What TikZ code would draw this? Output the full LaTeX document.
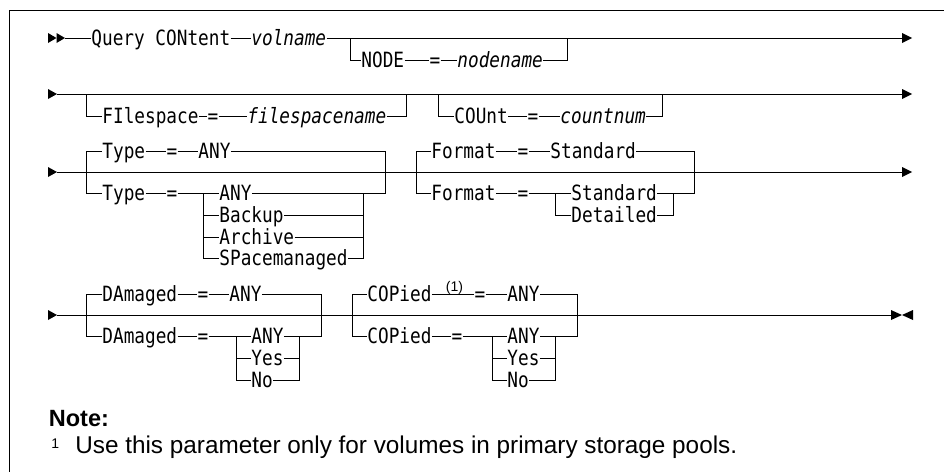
\documentclass[tikz,border=0pt]{standalone}
\usepackage{fontspec}
\newfontfamily\dmono[FakeStretch=0.845,ItalicFont={DejaVu Sans Mono Oblique}]{DejaVu Sans Mono}
\newfontfamily\lsans{Liberation Sans}
\newcommand\kwfont{\dmono\fontsize{21}{21}\selectfont}
\newcommand\varfont{\dmono\itshape\fontsize{21}{21}\selectfont}
\tikzset{
  kw/.style={font=\kwfont, anchor=west, inner sep=0pt, text height=15pt, text depth=0pt},
  var/.style={kw, font=\varfont},
  eqs/.style={kw, anchor=center},
  supmark/.style={font=\lsans\fontsize{14}{14}\selectfont, inner sep=0pt},
  frameline/.style={line width=1.4pt},
  tri/.pic={\fill (0,-5) -- (#1,0) -- (0,5) -- cycle;},
}
\begin{document}
\begin{tikzpicture}[x=1pt,y=-1pt,line width=0.8pt]
\useasboundingbox (0,0) rectangle (944,472);
\draw[frameline] (944,10.6) -- (9.4,10.6) -- (9.4,472);

% ---------- Row 1
\pic at (48,38) {tri=8.5};
\pic at (56.5,38) {tri=8.5};
\coordinate (s1) at (65,38);
\node[kw] (qc) at (91,38) {Query CONtent};
\node[var] (vol) at (251,38) {volname};
\coordinate (e1) at (902,38);
\pic at (e1) {tri=10};
\draw (s1) -- (qc.west) (qc.east) -- (vol.west) (vol.east) -- (e1);
\coordinate (b1L) at (350,38);
\coordinate (b1R) at (567,38);
\node[kw] (nodekw) at (361,60) {NODE};
\node[eqs] (eqA) at (435,60) {=};
\node[var] (nodev) at (457,60) {nodename};
\draw (b1L) |- (nodekw.west) (nodekw.east) -- (eqA.west) (eqA.east) -- (nodev.west) (nodev.east) -| (b1R);

% ---------- Row 2
\pic at (48,94) {tri=9};
\coordinate (s2) at (57,94);
\coordinate (e2) at (902,94);
\pic at (e2) {tri=10};
\draw (s2) -- (e2);
\coordinate (b2L) at (86,94);
\coordinate (b2R) at (406,94);
\node[kw] (fskw) at (102,116) {FIlespace};
\node[eqs] (eqB) at (213,116) {=};
\node[var] (fsv) at (247,116) {filespacename};
\draw (b2L) |- (fskw.west) (fskw.east) -- (eqB.west) (eqB.east) -- (fsv.west) (fsv.east) -| (b2R);
\coordinate (b3L) at (438,94);
\coordinate (b3R) at (662,94);
\node[kw] (cntkw) at (454,116) {COUnt};
\node[eqs] (eqC) at (533,116) {=};
\node[var] (cntv) at (560,116) {countnum};
\draw (b3L) |- (cntkw.west) (cntkw.east) -- (eqC.west) (eqC.east) -- (cntv.west) (cntv.east) -| (b3R);

% ---------- Row 3
\pic at (48,172) {tri=9};
\coordinate (s3) at (57,172);
\coordinate (e3) at (902,172);
\pic at (e3) {tri=10};
\draw (s3) -- (e3);
% Type
\coordinate (tL) at (86,172);
\coordinate (tR) at (385,172);
\node[kw] (ty1) at (102,151) {Type};
\node[eqs] (eqD) at (172,151) {=};
\node[kw] (tany1) at (198,151) {ANY};
\draw (tL) |- (ty1.west) (ty1.east) -- (eqD.west) (eqD.east) -- (tany1.west) (tany1.east) -| (tR);
\node[kw] (ty2) at (102,193) {Type};
\node[eqs] (eqE) at (172,193) {=};
\coordinate (tiL) at (203,193);
\node[kw] (tany2) at (219,193) {ANY};
\node[kw] (tbak) at (219,215) {Backup};
\node[kw] (tarc) at (219,237) {Archive};
\node[kw] (tspm) at (219,258) {SPacemanaged};
\coordinate (tiR) at (363,193);
\draw (tL) |- (ty2.west) (ty2.east) -- (eqE.west) (eqE.east) -- (tany2.west) (tany2.east) -| (tR);
\draw (tiL) |- (tbak.west) (tiL) |- (tarc.west) (tiL) |- (tspm.west);
\draw (tbak.east) -| (tiR) (tarc.east) -| (tiR) (tspm.east) -| (tiR);
% Format
\coordinate (fL) at (416,172);
\coordinate (fR) at (694,172);
\node[kw] (fm1) at (431,151) {Format};
\node[eqs] (eqF) at (523,151) {=};
\node[kw] (std1) at (550,151) {Standard};
\draw (fL) |- (fm1.west) (fm1.east) -- (eqF.west) (eqF.east) -- (std1.west) (std1.east) -| (fR);
\node[kw] (fm2) at (431,193) {Format};
\node[eqs] (eqG) at (523,193) {=};
\coordinate (fiL) at (555,193);
\node[kw] (std2) at (571,193) {Standard};
\node[kw] (det) at (571,215) {Detailed};
\coordinate (fiR) at (673,193);
\draw (fL) |- (fm2.west) (fm2.east) -- (eqG.west) (eqG.east) -- (std2.west) (std2.east) -| (fR);
\draw (fiL) |- (det.west) (det.east) -| (fiR);

% ---------- Row 4
\pic at (48,315) {tri=9};
\coordinate (s4) at (57,315);
\coordinate (e4) at (891,315);
\pic at (e4) {tri=11};
\pic at (913,315) {tri=-11};
\draw (s4) -- (e4);
% DAmaged
\coordinate (dL) at (86,315);
\coordinate (dR) at (321,315);
\node[kw] (dm1) at (102,294) {DAmaged};
\node[eqs] (eqH) at (203,294) {=};
\node[kw] (dany1) at (229,294) {ANY};
\draw (dL) |- (dm1.west) (dm1.east) -- (eqH.west) (eqH.east) -- (dany1.west) (dany1.east) -| (dR);
\node[kw] (dm2) at (102,336) {DAmaged};
\node[eqs] (eqI) at (203,336) {=};
\coordinate (diL) at (236,336);
\node[kw] (dany2) at (251,336) {ANY};
\node[kw] (dyes) at (251,358) {Yes};
\node[kw] (dno) at (251,380) {No};
\coordinate (diR) at (299,336);
\draw (dL) |- (dm2.west) (dm2.east) -- (eqI.west) (eqI.east) -- (dany2.west) (dany2.east) -| (dR);
\draw (diL) |- (dyes.west) (diL) |- (dno.west);
\draw (dyes.east) -| (diR) (dno.east) -| (diR);
% COPied
\coordinate (cL) at (352,315);
\coordinate (cR) at (577,315);
\node[kw] (cp1) at (367,294) {COPied};
\node[supmark] (fn1) at (454.5,288) {(1)};
\node[eqs] (eqJ) at (480,294) {=};
\node[kw] (cany1) at (507,294) {ANY};
\draw (cL) |- (cp1.west) (cp1.east) -- (eqJ.west) (eqJ.east) -- (cany1.west) (cany1.east) -| (cR);
\node[kw] (cp2) at (367,336) {COPied};
\node[eqs] (eqK) at (457,336) {=};
\coordinate (ciL) at (492,336);
\node[kw] (cany2) at (507,336) {ANY};
\node[kw] (cyes) at (507,358) {Yes};
\node[kw] (cno) at (507,380) {No};
\coordinate (ciR) at (555,336);
\draw (cL) |- (cp2.west) (cp2.east) -- (eqK.west) (eqK.east) -- (cany2.west) (cany2.east) -| (cR);
\draw (ciL) |- (cyes.west) (ciL) |- (cno.west);
\draw (cyes.east) -| (ciR) (cno.east) -| (ciR);

% ---------- Note
\node[font=\lsans\bfseries\fontsize{23.5}{23.5}\selectfont, anchor=base west, inner sep=0pt] (note) at (48.5,426) {Note:};
\node[font=\lsans\fontsize{14}{14}\selectfont, anchor=base west, inner sep=0pt] (fnum) at (51,448) {1};
\node[font=\lsans\fontsize{24.3}{24.3}\selectfont, anchor=base west, inner sep=0pt] (ftext) at (75,453) {Use this parameter only for volumes in primary storage pools.};
\end{tikzpicture}
\end{document}
